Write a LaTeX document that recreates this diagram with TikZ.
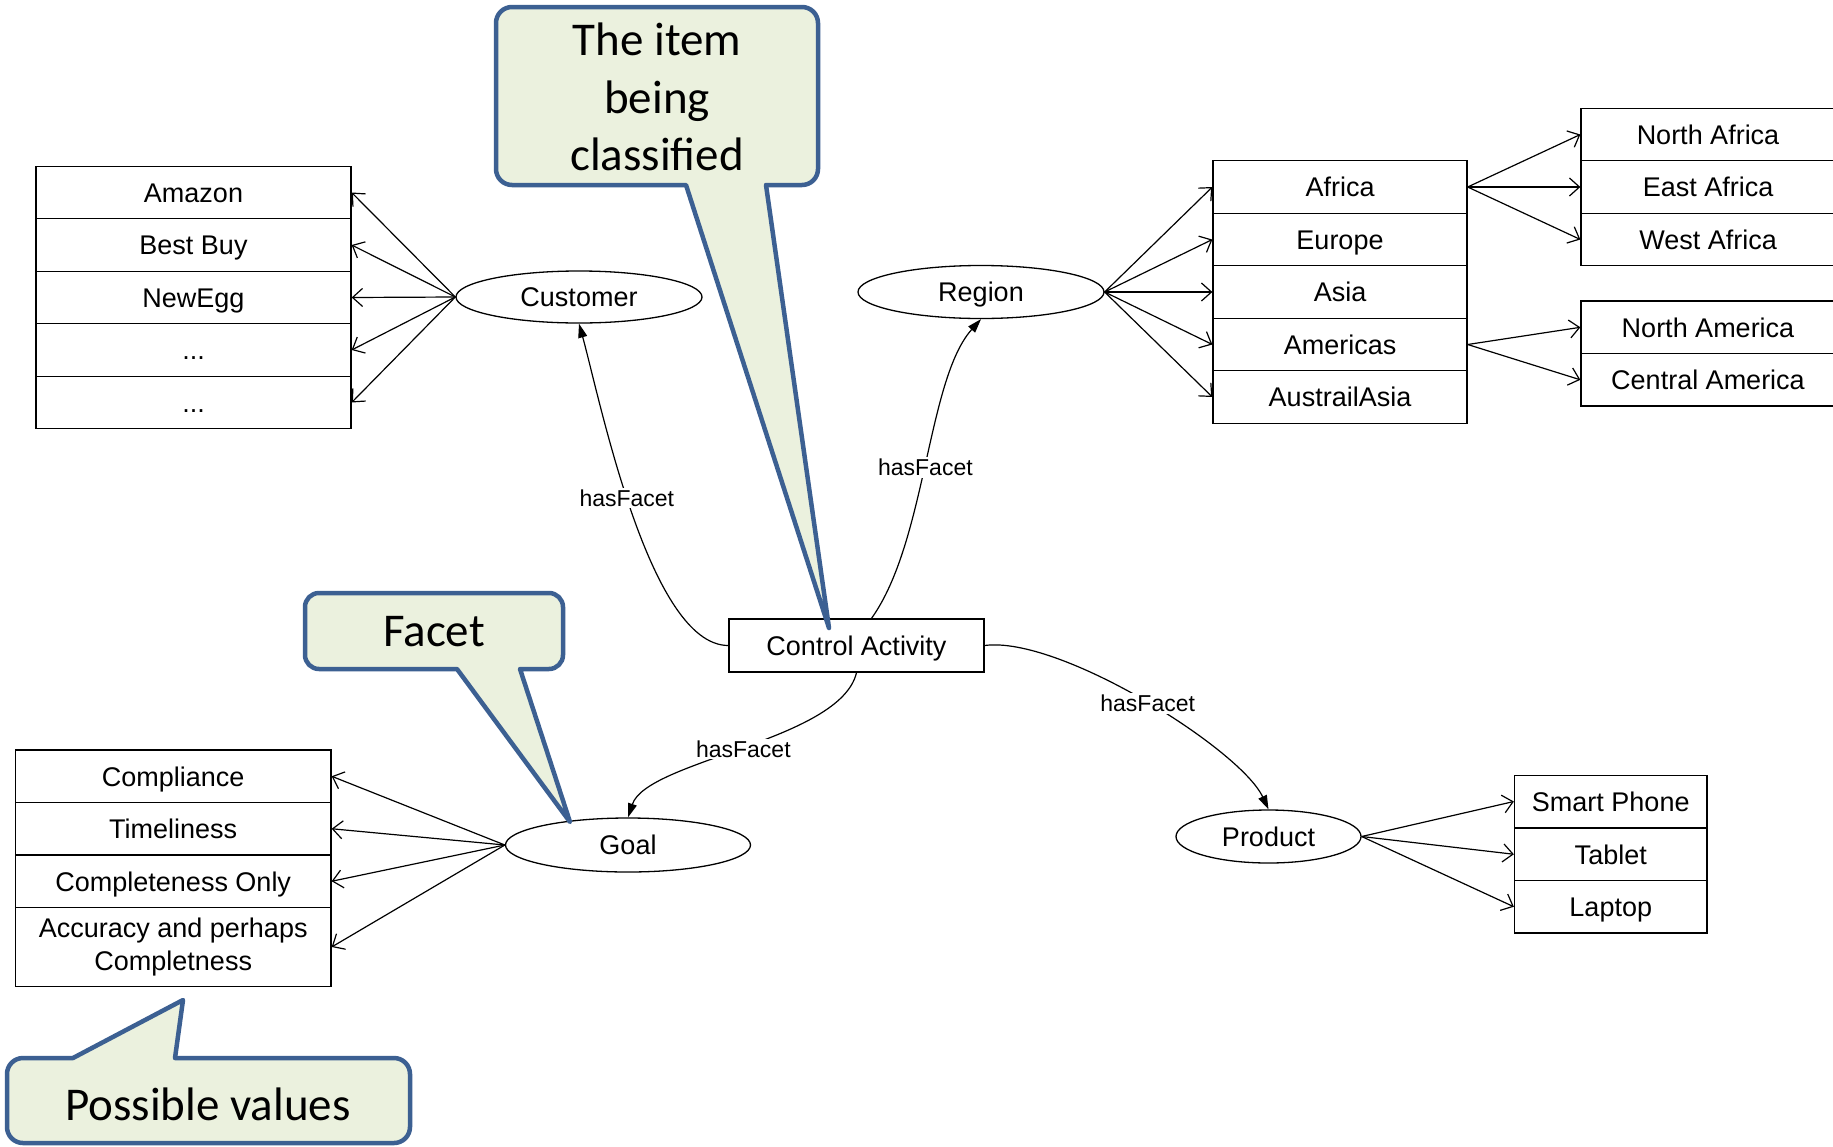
\documentclass[tikz,border=0pt]{standalone}
\usepackage{fontspec}
\setmainfont{Liberation Sans}
\newfontfamily\calloutfont{Carlito}
\usetikzlibrary{arrows.meta,shapes.geometric}
\definecolor{calloutline}{RGB}{60,96,146}
\definecolor{calloutfill}{RGB}{235,241,222}

\begin{document}
\begin{tikzpicture}[x=1pt,y=-1pt,
  every node/.style={font=\fontsize{27}{31}\selectfont},
  cell/.style={draw, line width=1.3pt, rectangle, inner sep=0pt, text height=19.5pt, text depth=0pt},
  facet/.style={draw, ellipse, line width=1.3pt, inner sep=0pt, text height=19.5pt, text depth=0pt},
  value/.style={line width=1.2pt, -{Straight Barb[length=10pt,width=18pt]}},
  rel/.style={line width=1.2pt, -{Triangle[length=14pt,width=9pt]}},
  rellabel/.style={fill=white, inner sep=2pt, text height=16.5pt, text depth=0pt, font=\fontsize{23}{27}\selectfont},
  callout/.style={draw=calloutline, fill=calloutfill, line width=4.5pt, line join=round},
  callouttext/.style={font=\calloutfont\fontsize{47}{57.5}\selectfont, align=center, inner sep=0pt}
]
\useasboundingbox (0,0) rectangle (1833,1146);
\clip (0,0) rectangle (1833,1146);
\fill[white] (0,0) rectangle (1833,1146);

% central item
\node[cell, minimum width=255pt, minimum height=53pt] (ca) at (856.5,645.5) {Control Activity};

% facets
\node[facet, minimum width=246pt, minimum height=52pt] (cust) at (579,297) {Customer};
\node[facet, minimum width=246pt, minimum height=53pt] (region) at (981,292) {Region};
\node[facet, minimum width=245pt, minimum height=54pt] (goal) at (628,845) {Goal};
\node[facet, minimum width=185pt, minimum height=53pt] (product) at (1268.5,836.5) {Product};

% customer values
\begin{scope}[every node/.append style={cell, minimum width=315pt, minimum height=52.5pt}]
\node (c1) at (193.5,192.5) {Amazon};
\node (c2) at (193.5,245) {Best Buy};
\node (c3) at (193.5,297.5) {NewEgg};
\node (c4) at (193.5,350) {...};
\node (c5) at (193.5,402.5) {...};
\end{scope}

% region values
\begin{scope}[every node/.append style={cell, minimum width=254pt, minimum height=52.5pt}]
\node (r1) at (1340,187) {Africa};
\node (r2) at (1340,239.5) {Europe};
\node (r3) at (1340,292) {Asia};
\node (r4) at (1340,344.5) {Americas};
\node (r5) at (1340,397) {AustrailAsia};
\node (af1) at (1708,134.5) {North Africa};
\node (af2) at (1708,187) {East Africa};
\node (af3) at (1708,239.5) {West Africa};
\node (am1) at (1708,327.3) {North America};
\node (am2) at (1708,379.8) {Central America};
\end{scope}

% goal values
\begin{scope}[every node/.append style={cell, minimum width=315.5pt, minimum height=52.5pt}]
\node (g1) at (173.25,776.25) {Compliance};
\node (g2) at (173.25,828.75) {Timeliness};
\node (g3) at (173.25,881.25) {Completeness Only};
\end{scope}
\node[draw, line width=1.3pt, inner sep=0pt, minimum width=315.5pt, minimum height=79pt,
      align=center, font=\fontsize{27}{32.5}\selectfont] (g4) at (173.25,947) {Accuracy and perhaps\\Completness};

% product values
\begin{scope}[every node/.append style={cell, minimum width=192.5pt, minimum height=52.5pt}]
\node (p1) at (1610.75,801.5) {Smart Phone};
\node (p2) at (1610.75,854.25) {Tablet};
\node (p3) at (1610.75,906.75) {Laptop};
\end{scope}

% facet -> value links
\foreach \v in {c1,c2,c3,c4,c5} \draw[value] (cust.west) -- (\v.east);
\foreach \v in {r1,r2,r3,r4,r5} \draw[value] (region.east) -- (\v.west);
\foreach \v in {af1,af2,af3} \draw[value] (r1.east) -- (\v.west);
\foreach \v in {am1,am2} \draw[value] (r4.east) -- (\v.west);
\foreach \v in {g1,g2,g3,g4} \draw[value] (goal.west) -- (\v.east);
\foreach \v in {p1,p2,p3} \draw[value] (product.east) -- (\v.west);

% hasFacet relations
\draw[rel] (ca.west) .. controls +(-79,0) and +(21,76) .. (cust.south)
  node[rellabel, pos=0.535] {hasFacet};
\draw[rel] ([xshift=15pt]ca.north) .. controls +(55,-77) and +(-54,60) .. (region.south)
  node[rellabel, pos=0.485] {hasFacet};
\draw[rel] (ca.south) .. controls +(-16,68) and +(19,-57) .. (goal.north)
  node[rellabel, pos=0.5] {hasFacet};
\draw[rel] (ca.east) .. controls +(75,-10) and +(-28,-60) .. (product.north)
  node[rellabel, pos=0.51] {hasFacet};

% callouts
\path[callout] (512,7) -- (802,7) arc[start angle=-90,end angle=0,radius=16]
  -- (818,169) arc[start angle=0,end angle=90,radius=16]
  -- (766,185) -- (829,628) -- (686,185)
  -- (512,185) arc[start angle=90,end angle=180,radius=16]
  -- (496,23) arc[start angle=180,end angle=270,radius=16] -- cycle;
\node[callouttext] (item) at (657,97) {The item\\being\\classified};

\path[callout] (319,593) -- (549,593) arc[start angle=-90,end angle=0,radius=14]
  -- (563,655) arc[start angle=0,end angle=90,radius=14]
  -- (520,669) -- (570,822) -- (457,669)
  -- (319,669) arc[start angle=90,end angle=180,radius=14]
  -- (305,607) arc[start angle=180,end angle=270,radius=14] -- cycle;
\node[callouttext] (facetnote) at (434,632) {Facet};

\path[callout] (23,1058) -- (73,1058) -- (183,1000) -- (175,1058)
  -- (394,1058) arc[start angle=-90,end angle=0,radius=16]
  -- (410,1127) arc[start angle=0,end angle=90,radius=16]
  -- (23,1143) arc[start angle=90,end angle=180,radius=16]
  -- (7,1074) arc[start angle=180,end angle=270,radius=16] -- cycle;
\node[callouttext] (valuesnote) at (208,1104) {Possible values};
\end{tikzpicture}
\end{document}
